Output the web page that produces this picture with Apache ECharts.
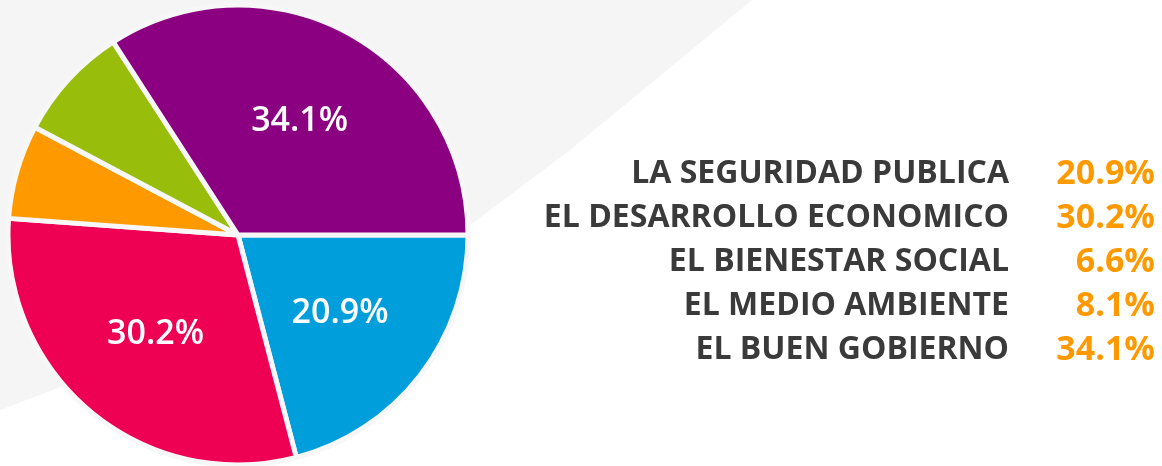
<!DOCTYPE html>
<html>
<head>
<meta charset="utf-8">
<script src="https://cdn.jsdelivr.net/npm/echarts@6/dist/echarts.min.js"></script>
<style>
  html, body { margin: 0; padding: 0; background: #fff; }
  #main { width: 1162px; height: 466px; }
</style>
</head>
<body>
<div id="main"></div>
<script>
var categories = ['LA SEGURIDAD PUBLICA', 'EL DESARROLLO ECONOMICO', 'EL BIENESTAR SOCIAL', 'EL MEDIO AMBIENTE', 'EL BUEN GOBIERNO'];
var values = [20.9, 30.2, 6.6, 8.1, 34.1];
var colors = ['#009edb', '#ee0052', '#ff9900', '#98bd0a', '#8a0080'];
var showInside = [true, true, false, false, true];

var myChart = echarts.init(document.getElementById('main'));

var pieData = categories.map(function (name, i) {
    return { name: name, value: values[i], itemStyle: { color: colors[i] } };
});
var labelData = categories.map(function (name, i) {
    return { name: name, value: values[i], label: { show: showInside[i] } };
});

option = {
    backgroundColor: '#ffffff',
    animation: false,
    // fondo gris claro a la izquierda
    graphic: [{
        type: 'polygon',
        z: -10,
        shape: { points: [[0, 0], [752, 0], [570, 150], [450, 240], [0, 410]] },
        style: { fill: '#f5f5f5' }
    }],
    legend: {
        orient: 'vertical',
        right: 2,
        top: 151,
        selectedMode: false,
        icon: 'none',
        itemWidth: 0,
        itemHeight: 10,
        itemGap: 8,
        data: categories,
        formatter: function (name) {
            var i = categories.indexOf(name);
            return '{n|' + name + '}{v|' + values[i].toFixed(1) + '%}';
        },
        textStyle: {
            rich: {
                n: {
                    fontFamily: 'Open Sans',
                    fontSize: 32,
                    fontWeight: 'bold',
                    color: '#3a3a3a',
                    width: 440,
                    align: 'right',
                    height: 36,
                    lineHeight: 36
                },
                v: {
                    fontFamily: 'Open Sans',
                    fontSize: 34,
                    fontWeight: 'bold',
                    color: '#ff9900',
                    width: 146,
                    align: 'right',
                    height: 36,
                    lineHeight: 36
                }
            }
        }
    },
    series: [
        {
            type: 'pie',
            center: [238, 235],
            radius: 230,
            startAngle: 0,
            clockwise: true,
            silent: true,
            label: { show: false },
            labelLine: { show: false },
            itemStyle: { borderColor: '#f7f7f7', borderWidth: 5 },
            data: pieData
        },
        {
            type: 'pie',
            center: [238, 235],
            radius: 252,
            startAngle: 0,
            clockwise: true,
            silent: true,
            itemStyle: { color: 'rgba(0,0,0,0)' },
            label: {
                position: 'inside',
                color: '#ffffff',
                fontFamily: 'Open Sans',
                fontSize: 34,
                fontWeight: 600,
                formatter: function (p) { return p.value.toFixed(1) + '%'; }
            },
            labelLine: { show: false },
            data: labelData
        }
    ]
};
myChart.setOption(option);
</script>
</body>
</html>
